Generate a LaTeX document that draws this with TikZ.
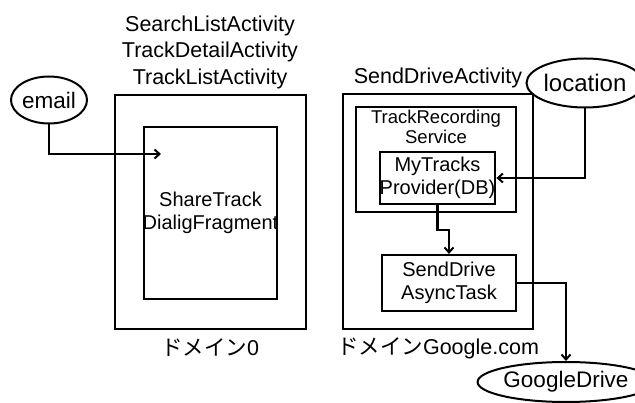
\documentclass[tikz,border=0pt]{standalone}
\usepackage{fontspec}
\setmainfont{Liberation Sans}
\newfontfamily\cjk{Noto Sans CJK JP}
\usetikzlibrary{arrows.meta,shapes.geometric}
\tikzset{
  box/.style={draw, line width=2.2pt, rectangle, inner sep=0pt},
  oval/.style={draw, line width=2pt, ellipse, inner sep=0pt},
  lbl/.style={align=center, inner sep=0pt},
  big/.style={font=\fontsize{21.5}{26.5}\selectfont},
  mid/.style={font=\fontsize{20}{23}\selectfont},
  small/.style={font=\fontsize{18.5}{20.5}\selectfont},
  arr/.style={line width=2.2pt, -{Straight Barb[length=5pt,width=9pt,line width=2pt]}},
}
\begin{document}
\begin{tikzpicture}[x=1pt,y=-1pt]
\useasboundingbox (0,0) rectangle (635,403);
% left domain
\node[lbl,big] (ltitle) at (210,52) {SearchListActivity\\TrackDetailActivity\\TrackListActivity};
\node[box, minimum width=191pt, minimum height=234pt] (louter) at (210.5,212) {};
\node[box, minimum width=133pt, minimum height=172pt] (linner) at (210.5,213) {};
\node[lbl,mid] (ltext) at (210.5,213) {ShareTrack\\DialigFragment};
\node[lbl,big] (ldom) at (210,348) {{\cjk ドメイン}0};
\node[oval, minimum width=72pt, minimum height=47pt, font=\fontsize{22.5}{26}\selectfont] (email) at (49,100) {email};
\coordinate (ltip) at (161,154);
\draw[arr] (email.south) |- (ltip);
% right domain
\node[lbl,big] (rtitle) at (438,78) {SendDriveActivity};
\node[box, minimum width=190pt, minimum height=235pt] (router) at (438,211.5) {};
\node[box, minimum width=160pt, minimum height=105pt] (trs) at (436,159.5) {};
\node[lbl,small] (trstext) at (436,127) {TrackRecording\\Service};
\node[box, minimum width=111pt, minimum height=52pt, lbl, mid] (prov) at (437.5,178) {MyTracks\\Provider(DB)};
\node[box, minimum width=134pt, minimum height=56pt, lbl, mid] (sdat) at (449,283) {SendDrive\\AsyncTask};
\node[lbl,big] (rdom) at (438,348) {{\cjk ドメイン}Google.com};
\node[oval, minimum width=88pt, minimum height=49pt, font=\fontsize{24}{26}\selectfont] (loc) at (585,83) {location};
\node[oval, minimum width=133pt, minimum height=40pt, font=\fontsize{22.5}{26}\selectfont] (gd) at (566,382) {GoogleDrive};
\draw[arr] (loc.south) |- (prov.east);
\draw[arr] (prov.south) -- ++(0,25) -| (sdat.north);
\draw[arr] (sdat.east) -| (gd.north);
\end{tikzpicture}
\end{document}
